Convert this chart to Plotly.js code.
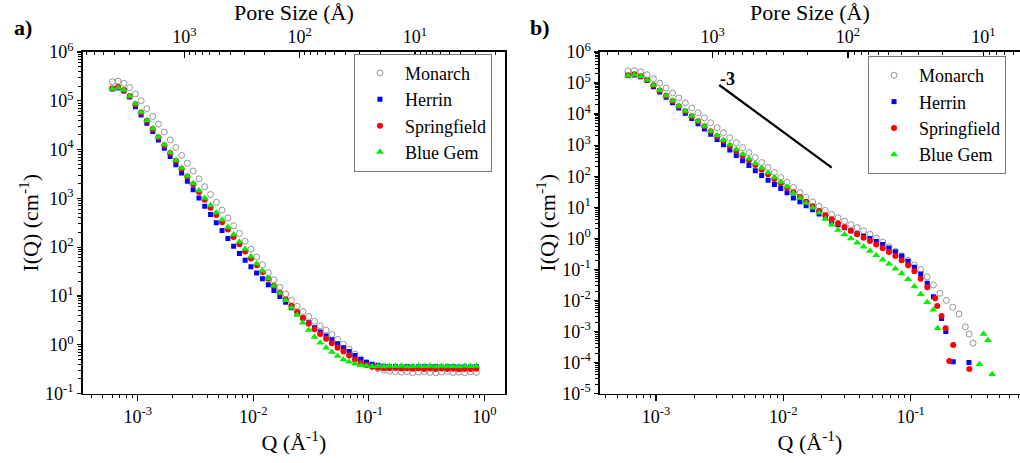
<!DOCTYPE html>
<html><head><meta charset="utf-8">
<script src="https://cdn.plot.ly/plotly-3.0.1.min.js"></script>
<style>html,body{margin:0;padding:0;background:#fff}#chart{width:1020px;height:463px}</style>
</head><body><div id="chart"></div>
<script>
// Q grid (Å^-1)
const qGrid = [6.03e-4, 6.76e-4, 7.59e-4, 8.51e-4, 9.55e-4, 1.07e-3, 1.20e-3, 1.35e-3, 1.51e-3, 1.70e-3,
  1.91e-3, 2.14e-3, 2.40e-3, 2.69e-3, 3.02e-3, 3.39e-3, 3.80e-3, 4.27e-3, 4.79e-3, 5.37e-3,
  6.03e-3, 6.76e-3, 7.59e-3, 8.51e-3, 9.55e-3, 0.0107, 0.0120, 0.0135, 0.0151, 0.0170,
  0.0191, 0.0214, 0.0240, 0.0269, 0.0302, 0.0339, 0.0380, 0.0427, 0.0479, 0.0537,
  0.0603, 0.0676, 0.0759, 0.0851, 0.0955, 0.107, 0.120, 0.135, 0.151, 0.170,
  0.191, 0.214, 0.240, 0.269, 0.302, 0.339, 0.380, 0.427, 0.479, 0.537,
  0.603, 0.676, 0.759, 0.851];

// Panel a: raw I(Q) (cm^-1)
const monarchA = [2.45e5, 2.51e5, 2.29e5, 1.86e5, 1.38e5, 1.00e5, 6.92e4, 4.79e4, 3.31e4, 2.29e4,
  1.58e4, 1.10e4, 7.59e3, 5.25e3, 3.63e3, 2.51e3, 1.74e3, 1.20e3, 832, 575,
  398, 275, 191, 132, 91.2, 63.1, 43.7, 30.2, 21.4, 15.1,
  11.0, 8.13, 6.17, 4.79, 3.80, 3.02, 2.45, 2.00, 1.62, 1.29,
  1.02, 0.813, 0.646, 0.513, 0.427, 0.363, 0.324, 0.302, 0.288, 0.282,
  0.275, 0.282, 0.269, 0.275, 0.280, 0.272, 0.266, 0.277, 0.283, 0.270,
  0.274, 0.268, 0.278, 0.272];
const herrinA = [1.74e5, 1.82e5, 1.58e5, 1.20e5, 7.59e4, 5.13e4, 3.47e4, 2.34e4, 1.58e4, 1.07e4,
  7.24e3, 4.90e3, 3.31e3, 2.24e3, 1.51e3, 1.02e3, 692, 468, 316, 219,
  151, 105, 74.1, 53.7, 39.8, 29.5, 22.4, 17.0, 12.9, 9.77,
  7.41, 5.75, 4.47, 3.55, 2.82, 2.24, 1.82, 1.51, 1.26, 1.05,
  0.871, 0.724, 0.603, 0.501, 0.437, 0.398, 0.380, 0.363, 0.355, 0.360,
  0.352, 0.358, 0.350, 0.355, 0.360, 0.353, 0.357, 0.350, 0.356, 0.360,
  0.352, 0.355, 0.350, 0.358];
const springfieldA = [1.78e5, 1.91e5, 1.66e5, 1.26e5, 8.51e4, 5.75e4, 3.89e4, 2.63e4, 1.78e4, 1.23e4,
  8.51e3, 5.89e3, 4.07e3, 2.82e3, 1.95e3, 1.35e3, 933, 646, 457, 324,
  229, 162, 115, 81.3, 58.9, 42.7, 30.9, 22.4, 16.2, 11.7,
  8.51, 6.31, 4.68, 3.55, 2.69, 2.09, 1.66, 1.32, 1.07, 0.871,
  0.724, 0.603, 0.501, 0.427, 0.380, 0.355, 0.339, 0.331, 0.328, 0.333,
  0.325, 0.330, 0.322, 0.328, 0.318, 0.325, 0.320, 0.327, 0.318, 0.322,
  0.315, 0.320, 0.318, 0.322];
const blueGemA = [1.74e5, 1.86e5, 1.66e5, 1.26e5, 8.71e4, 5.89e4, 3.98e4, 2.69e4, 1.82e4, 1.26e4,
  8.71e3, 6.03e3, 4.17e3, 2.88e3, 2.04e3, 1.45e3, 1.02e3, 724, 513, 363,
  257, 182, 129, 91.2, 64.6, 45.7, 32.4, 22.9, 16.2, 11.5,
  8.13, 5.75, 4.07, 2.82, 2.00, 1.45, 1.10, 0.871, 0.708, 0.589,
  0.501, 0.447, 0.407, 0.380, 0.372, 0.363, 0.366, 0.360, 0.365, 0.362,
  0.368, 0.360, 0.364, 0.367, 0.361, 0.365, 0.360, 0.366, 0.362, 0.364,
  0.360, 0.367, 0.362, 0.365];

// Panel b: background-subtracted I(Q), on the start of qGrid, plus sparse tails
const monarchB = [2.45e5, 2.51e5, 2.29e5, 1.86e5, 1.38e5, 1.00e5, 6.92e4, 4.79e4, 3.31e4, 2.29e4,
  1.58e4, 1.10e4, 7.59e3, 5.25e3, 3.63e3, 2.51e3, 1.74e3, 1.20e3, 832, 575,
  398, 275, 191, 132, 91.2, 63.1,
  43.4, 29.9, 21.1, 14.8, 10.7, 7.94, 5.89, 4.57, 3.55, 2.75, 2.19, 1.74, 1.35, 1.02,
  0.759, 0.537, 0.380, 0.275, 0.195, 0.138, 0.0977, 0.0575, 0.0316, 0.0170, 0.0100, 0.00603, 0.00363];
const monarchTailQ = [0.269, 0.288, 0.309];
const monarchTailI = [1.41e-3, 8.3e-4, 4.2e-4];

const herrinB = [1.74e5, 1.82e5, 1.58e5, 1.20e5, 7.59e4, 5.13e4, 3.47e4, 2.34e4, 1.58e4, 1.07e4,
  7.24e3, 4.90e3, 3.31e3, 2.24e3, 1.51e3, 1.02e3, 692, 468, 316, 219,
  151, 105, 74.1, 53.7, 39.8, 29.5,
  20.0, 15.1, 11.2, 8.32, 6.03, 4.57, 3.55, 2.75, 2.19, 1.74, 1.41, 1.17, 0.977, 0.794,
  0.631, 0.490, 0.372, 0.269, 0.182, 0.117, 0.0708, 0.0355, 0.0132];
const herrinTailQ = [0.175, 0.189, 0.216, 0.287];
const herrinTailI = [2.63e-3, 1.0e-3, 1.05e-4, 1.0e-4];

const springfieldB = [1.78e5, 1.91e5, 1.66e5, 1.26e5, 8.51e4, 5.75e4, 3.89e4, 2.63e4, 1.78e4, 1.23e4,
  8.51e3, 5.89e3, 4.07e3, 2.82e3, 1.95e3, 1.35e3, 933, 646, 457, 324,
  229, 162, 115, 81.3, 58.9, 42.7,
  30.2, 21.4, 15.1, 10.7, 7.59, 5.50, 4.07, 3.02, 2.29, 1.74, 1.35, 1.05, 0.813, 0.631,
  0.479, 0.363, 0.269, 0.195, 0.135, 0.0871, 0.0501, 0.0263];
const springfieldTailQ = [0.156, 0.162, 0.175, 0.188, 0.201, 0.216, 0.289];
const springfieldTailI = [1.17e-2, 6.61e-3, 3.16e-3, 1.26e-3, 1.12e-4, 3.63e-4, 6.17e-5];

const blueGemB = [1.74e5, 1.86e5, 1.66e5, 1.26e5, 8.71e4, 5.89e4, 3.98e4, 2.69e4, 1.82e4, 1.26e4,
  8.71e3, 6.03e3, 4.17e3, 2.88e3, 2.04e3, 1.45e3, 1.02e3, 724, 513, 363,
  257, 182, 129, 91.2, 64.6, 45.7,
  28.2, 20.0, 13.8, 9.55, 6.61, 4.17, 2.75, 1.86, 1.32, 0.977, 0.724, 0.537, 0.389, 0.282,
  0.204, 0.148, 0.105, 0.0741, 0.0479, 0.0282, 0.0158, 0.00871, 0.00501];
const blueGemTailQ = [0.163, 0.347, 0.374, 0.405, 0.437];
const blueGemTailI = [1.26e-3, 8.71e-5, 8.32e-4, 5.25e-4, 4.17e-5];

// slope -3 guide line (panel b)
const slopeQ = [3.14e-3, 0.0240];
const slopeI = [8.65e4, 188];

const seriesNames = ['Monarch', 'Herrin', 'Springfield', 'Blue Gem'];

// tick labels
const qTickVals = [0.001, 0.01, 0.1, 1];
const qTickText = ['10<sup>-3</sup>', '10<sup>-2</sup>', '10<sup>-1</sup>', '10<sup>0</sup>'];
const poreTickVals = [1000, 100, 10];
const poreTickText = ['10<sup>3</sup>', '10<sup>2</sup>', '10<sup>1</sup>'];
const iTickValsA = [0.1, 1, 10, 100, 1e3, 1e4, 1e5, 1e6];
const iTickTextA = ['10<sup>-1</sup>', '10<sup>0</sup>', '10<sup>1</sup>', '10<sup>2</sup>', '10<sup>3</sup>', '10<sup>4</sup>', '10<sup>5</sup>', '10<sup>6</sup>'];
const iTickValsB = [1e-5, 1e-4, 1e-3, 0.01, 0.1, 1, 10, 100, 1e3, 1e4, 1e5, 1e6];
const iTickTextB = ['10<sup>-5</sup>', '10<sup>-4</sup>', '10<sup>-3</sup>', '10<sup>-2</sup>', '10<sup>-1</sup>', '10<sup>0</sup>', '10<sup>1</sup>', '10<sup>2</sup>', '10<sup>3</sup>', '10<sup>4</sup>', '10<sup>5</sup>', '10<sup>6</sup>'];

const FONT = 'Liberation Serif';
const styles = [
  {symbol: 'circle-open', size: 6, color: '#8a8a8a', line: {width: 0.9, color: '#8a8a8a'}},
  {symbol: 'square', size: 5, color: '#0000ff', line: {width: 0}},
  {symbol: 'circle', size: 6, color: '#ff0000', line: {width: 0}},
  {symbol: 'triangle-up', size: 7, color: '#00ee00', line: {width: 0}}
];

const dataA = [monarchA, herrinA, springfieldA, blueGemA];
const dataB = [monarchB, herrinB, springfieldB, blueGemB];
const tailQ = [monarchTailQ, herrinTailQ, springfieldTailQ, blueGemTailQ];
const tailI = [monarchTailI, herrinTailI, springfieldTailI, blueGemTailI];

const traces = [];
for (let i = 0; i < 4; i++) {
  traces.push({type: 'scatter', mode: 'markers', name: seriesNames[i],
    x: qGrid.slice(0, dataA[i].length), y: dataA[i], xaxis: 'x', yaxis: 'y',
    marker: styles[i], legend: 'legend', hoverinfo: 'x+y'});
}
for (let i = 0; i < 4; i++) {
  traces.push({type: 'scatter', mode: 'markers', name: seriesNames[i],
    x: qGrid.slice(0, dataB[i].length).concat(tailQ[i]), y: dataB[i].concat(tailI[i]),
    xaxis: 'x3', yaxis: 'y2', marker: styles[i], legend: 'legend2', hoverinfo: 'x+y'});
}
traces.push({type: 'scatter', mode: 'lines', x: slopeQ, y: slopeI, xaxis: 'x3', yaxis: 'y2',
  line: {color: '#000', width: 2.2}, showlegend: false, hoverinfo: 'skip'});
traces.push({type: 'scatter', mode: 'markers', x: [], y: [], xaxis: 'x2', yaxis: 'y', showlegend: false, hoverinfo: 'skip'});
traces.push({type: 'scatter', mode: 'markers', x: [], y: [], xaxis: 'x4', yaxis: 'y2', showlegend: false, hoverinfo: 'skip'});

const tickFont = {family: FONT, size: 18, color: '#000'};
const titleFont = {family: FONT, size: 22, color: '#000'};
const minorOut = {tickmode: 'linear', dtick: 'D1', ticks: 'outside', ticklen: 3, tickwidth: 1, tickcolor: '#000', showgrid: false};
const minorIn = {tickmode: 'linear', dtick: 'D1', ticks: 'inside', ticklen: 3, tickwidth: 1, tickcolor: '#000', showgrid: false};
const YD = [0.150, 0.8877];

function qAxis(domain, range, anchor, title) {
  return {type: 'log', domain: domain, range: range, anchor: anchor,
    tickmode: 'array', tickvals: qTickVals, ticktext: qTickText,
    ticks: 'outside', ticklen: 6, tickwidth: 1.2, tickcolor: '#000',
    minor: minorOut, showgrid: false, zeroline: false,
    showline: true, linecolor: '#000', linewidth: 1.6, mirror: false,
    tickfont: tickFont, title: {text: title, font: titleFont, standoff: 6}};
}
function poreAxis(overlay, range, anchor) {
  return {type: 'log', overlaying: overlay, side: 'top', range: range, anchor: anchor,
    tickmode: 'array', tickvals: poreTickVals, ticktext: poreTickText,
    ticks: 'inside', ticklen: 6, tickwidth: 1.2, tickcolor: '#000',
    minor: minorIn, showgrid: false, zeroline: false,
    showline: true, linecolor: '#000', linewidth: 1.6,
    tickfont: tickFont, title: {text: 'Pore Size (Å)', font: titleFont, standoff: 2}};
}
function iAxis(range, anchor, tv, tt, mirror) {
  return {type: 'log', domain: YD, range: range, anchor: anchor,
    tickmode: 'array', tickvals: tv, ticktext: tt,
    ticks: 'outside', ticklen: 4, tickwidth: 1.2, tickcolor: '#000',
    minor: minorOut, showgrid: false, zeroline: false,
    showline: true, linecolor: '#000', linewidth: 1.6, mirror: mirror,
    tickfont: tickFont, title: {text: 'I(Q) (cm<sup>-1</sup>)', font: titleFont, standoff: 0}};
}

const legendBase = {xanchor: 'left', yanchor: 'top', bgcolor: '#fff', bordercolor: '#777', borderwidth: 1,
  font: {family: FONT, size: 18, color: '#000'}, itemwidth: 40};

const layout = {
  width: 1020, height: 463, margin: {l: 0, r: 0, t: 0, b: 0},
  paper_bgcolor: '#fff', plot_bgcolor: '#fff', font: {family: FONT, color: '#000'},
  xaxis: qAxis([0.0811, 0.4951], [-3.476, 0.179], 'y', 'Q (Å<sup>-1</sup>)'),
  xaxis2: poreAxis('x', [3.881, 0.219], 'y'),
  yaxis: iAxis([-1, 6], 'x', iTickValsA, iTickTextA, true),
  xaxis3: qAxis([0.5882, 1.0], [-3.44, -0.141], 'y2', 'Q (Å<sup>-1</sup>)'),
  xaxis4: poreAxis('x3', [3.833, 0.729], 'y2'),
  yaxis2: iAxis([-5, 6], 'x3', iTickValsB, iTickTextB, false),
  legend: Object.assign({x: 0.347, y: 0.884}, legendBase),
  legend2: Object.assign({x: 0.851, y: 0.879}, legendBase),
  showlegend: true,
  annotations: [
    {text: '<b>a)</b>', xref: 'paper', yref: 'paper', x: 0.012, y: 0.94, xanchor: 'left', yanchor: 'middle', showarrow: false, font: {family: FONT, size: 22, color: '#000'}},
    {text: '<b>b)</b>', xref: 'paper', yref: 'paper', x: 0.518, y: 0.94, xanchor: 'left', yanchor: 'middle', showarrow: false, font: {family: FONT, size: 22, color: '#000'}},
    {text: '<b>-3</b>', xref: 'paper', yref: 'paper', x: 0.7137, y: 0.829, xanchor: 'center', yanchor: 'middle', showarrow: false, font: {family: FONT, size: 18, color: '#000'}}
  ]
};

Plotly.newPlot('chart', traces, layout, {displayModeBar: false, staticPlot: true});
</script>
</body></html>
